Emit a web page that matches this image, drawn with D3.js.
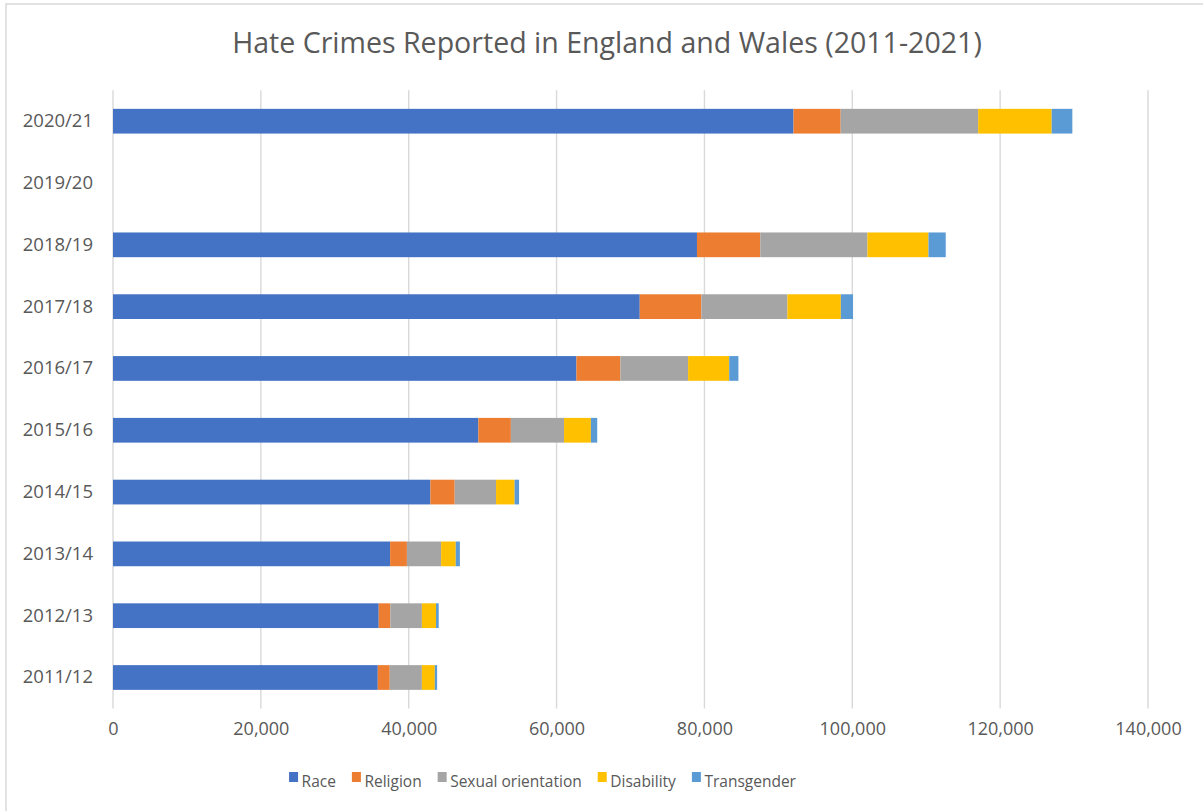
<!DOCTYPE html>
<html>
<head>
<meta charset="utf-8">
<script src="https://cdn.jsdelivr.net/npm/d3@7"></script>
<style>
  html, body { margin: 0; padding: 0; background: #ffffff; }
  svg { display: block; }
  text { font-family: "Open Sans", "Noto Sans", sans-serif; fill: #595959; }
</style>
</head>
<body>
<svg id="chart" width="1203" height="811"></svg>
<script>
// Reported hate crime offences by monitored strand, England and Wales
const years = ["2011/12", "2012/13", "2013/14", "2014/15", "2015/16", "2016/17", "2017/18", "2018/19", "2019/20", "2020/21"];
const race        = [35816, 35944, 37484, 42930, 49419, 62685, 71251, 78991, null, 92052];
const religion    = [1621, 1573, 2273, 3293, 4400, 5949, 8336, 8566, null, 6377];
const sexual      = [4345, 4267, 4622, 5591, 7194, 9157, 11638, 14491, null, 18596];
const disability  = [1748, 1911, 1985, 2508, 3629, 5558, 7226, 8256, null, 9943];
const transgender = [313, 364, 559, 605, 858, 1248, 1651, 2333, null, 2799];

const seriesNames = ["Race", "Religion", "Sexual orientation", "Disability", "Transgender"];
const seriesColors = ["#4472C4", "#ED7D31", "#A5A5A5", "#FFC000", "#5B9BD5"];
const xTicks = [0, 20000, 40000, 60000, 80000, 100000, 120000, 140000];
const titleText = "Hate Crimes Reported in England and Wales (2011-2021)";

const seriesValues = [race, religion, sexual, disability, transgender];
const keys = seriesNames;
const rows = years.map((y, i) => {
  const r = { year: y, missing: race[i] === null };
  keys.forEach((k, j) => { r[k] = seriesValues[j][i] === null ? 0 : seriesValues[j][i]; });
  return r;
});

const svg = d3.select("#chart");

// outer chart frame
svg.append("rect")
  .attr("x", 6).attr("y", 4)
  .attr("width", 1210).attr("height", 830)
  .attr("fill", "#ffffff")
  .attr("stroke", "#d9d9d9")
  .attr("stroke-width", 1.5);

const x = d3.scaleLinear().domain([0, 140000]).range([113, 1148]);
const y = d3.scaleBand()
  .domain(years.slice().reverse())
  .range([90.3, 708.4])
  .paddingInner(0.6)
  .paddingOuter(0.3);

// vertical gridlines
svg.append("g")
  .selectAll("line")
  .data(xTicks)
  .join("line")
  .attr("x1", d => x(d)).attr("x2", d => x(d))
  .attr("y1", 90.3).attr("y2", 708.4)
  .attr("stroke", "#d9d9d9")
  .attr("stroke-width", 1.4);

// stacked bars
const stacked = d3.stack().keys(keys)(rows);
svg.append("g")
  .selectAll("g")
  .data(stacked)
  .join("g")
  .attr("fill", (d, i) => seriesColors[i])
  .selectAll("rect")
  .data(d => d.filter(s => !s.data.missing))
  .join("rect")
  .attr("x", d => x(d[0]))
  .attr("width", d => x(d[1]) - x(d[0]))
  .attr("y", d => y(d.data.year))
  .attr("height", y.bandwidth());

// value axis
const xAxis = svg.append("g")
  .attr("transform", "translate(0,722)")
  .call(d3.axisBottom(x).tickValues(xTicks).tickFormat(d3.format(",")).tickSize(0).tickPadding(0));
xAxis.select(".domain").remove();
xAxis.selectAll("text")
  .attr("dy", "0.71em")
  .style("font-size", "18px")
  .style("font-family", "'Open Sans', 'Noto Sans', sans-serif")
  .attr("fill", "#595959");

// category axis
const yAxis = svg.append("g")
  .attr("transform", "translate(113,0)")
  .call(d3.axisLeft(y).tickSize(0).tickPadding(20));
yAxis.select(".domain").remove();
yAxis.selectAll("text")
  .style("font-size", "18.5px")
  .style("font-family", "'Open Sans', 'Noto Sans', sans-serif")
  .attr("fill", "#595959");

// title
const title = svg.append("text")
  .attr("x", 607)
  .attr("y", 53)
  .attr("text-anchor", "middle")
  .style("font-size", "28px")
  .text(titleText);
const tw = title.node().getComputedTextLength();
title.style("font-size", (28 * 750 / tw).toFixed(2) + "px");

// legend
const legend = svg.append("g");
const items = legend.selectAll("g")
  .data(seriesNames)
  .join("g");
items.append("rect")
  .attr("width", 9).attr("height", 10)
  .attr("y", -10)
  .attr("fill", (d, i) => seriesColors[i]);
items.append("text")
  .attr("x", 12.5)
  .attr("y", 0)
  .attr("dy", "0.3em")
  .style("font-size", "15.5px")
  .text(d => d);
const gap = 16;
let cursor = 0;
const offsets = [];
items.each(function () {
  offsets.push(cursor);
  const w = d3.select(this).select("text").node().getComputedTextLength();
  cursor += 12.5 + w + gap;
});
const totalW = cursor - gap;
const legendLeft = 542.5 - totalW / 2;
items.attr("transform", (d, i) => `translate(${legendLeft + offsets[i]},782)`);
</script>
</body>
</html>
